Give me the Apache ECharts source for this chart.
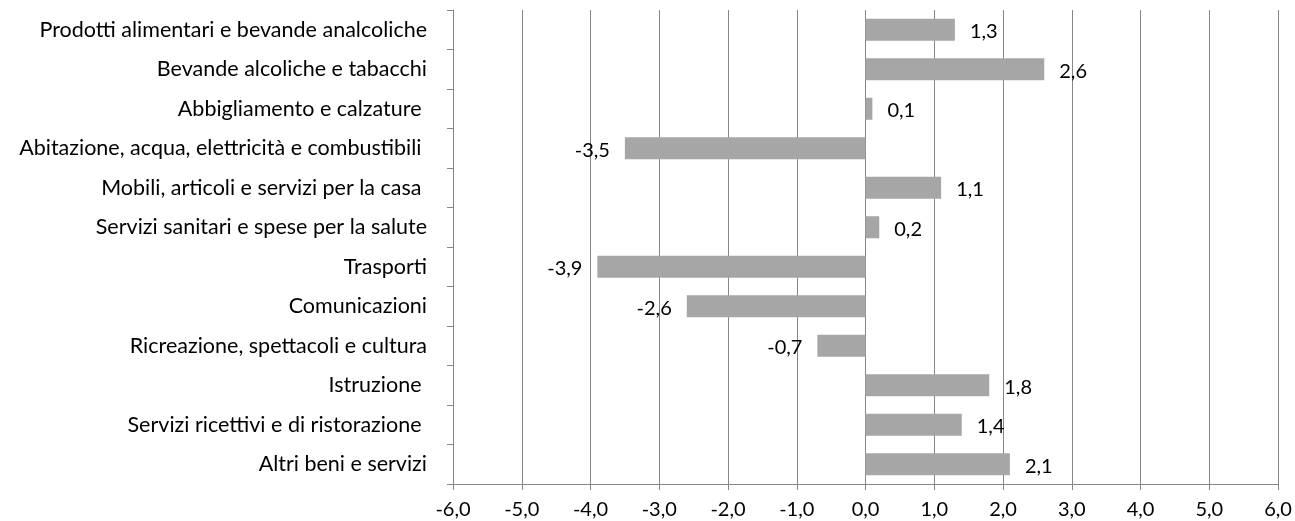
<!DOCTYPE html>
<html>
<head>
<meta charset="utf-8">
<script src="https://cdn.jsdelivr.net/npm/echarts@6/dist/echarts.min.js"></script>
<style>html,body{margin:0;padding:0;background:#fff}#c{width:1295px;height:521px}</style>
</head>
<body>
<div id="c"></div>
<script>
const categories = [
  "Prodotti alimentari e bevande analcoliche",
  "Bevande alcoliche e tabacchi",
  "Abbigliamento e calzature ",
  "Abitazione, acqua, elettricità e combustibili ",
  "Mobili, articoli e servizi per la casa ",
  "Servizi sanitari e spese per la salute",
  "Trasporti",
  "Comunicazioni",
  "Ricreazione, spettacoli e cultura",
  "Istruzione ",
  "Servizi ricettivi e di ristorazione ",
  "Altri beni e servizi"
];
const values = [1.3, 2.6, 0.1, -3.5, 1.1, 0.2, -3.9, -2.6, -0.7, 1.8, 1.4, 2.1];
const xMin = -6, xMax = 6, xStep = 1;

const fmt = v => v.toFixed(1).replace('.', ',');
const FONT = 'Lato';
const GRAY = '#868686';

const chart = echarts.init(document.getElementById('c'));
chart.setOption({
  animation: false,
  grid: { left: 453, right: 17, top: 10, bottom: 37, containLabel: false },
  xAxis: {
    type: 'value', min: xMin, max: xMax, interval: xStep,
    axisLine: { show: true, lineStyle: { color: GRAY, width: 1 } },
    axisTick: { show: true, length: 6, lineStyle: { color: GRAY } },
    axisLabel: { formatter: v => fmt(v), color: '#000', fontFamily: FONT, fontSize: 20, margin: 16 },
    splitLine: { show: true, lineStyle: { color: GRAY, width: 1 } }
  },
  yAxis: [
    {
      type: 'category', data: categories, inverse: true, position: 'left',
      axisLine: { show: false }, axisTick: { show: false },
      axisLabel: { color: '#000', fontFamily: FONT, fontSize: 21.5, margin: 26 },
      splitLine: { show: false }
    },
    {
      type: 'category', data: categories, inverse: true, position: 'left',
      axisLine: { show: true, onZero: true, lineStyle: { color: GRAY, width: 1 } },
      axisTick: { show: true, length: 6, lineStyle: { color: GRAY } },
      axisLabel: { show: false },
      splitLine: { show: false }
    }
  ],
  series: [{
    type: 'bar',
    yAxisIndex: 0,
    data: values.map(v => ({
      value: v,
      label: { position: v >= 0 ? 'right' : 'left' }
    })),
    barWidth: 22,
    itemStyle: { color: '#a6a6a6' },
    label: {
      show: true, distance: 15, offset: [0, 2],
      formatter: p => fmt(p.value),
      color: '#000', fontFamily: FONT, fontSize: 20
    },
    z: 3
  }]
});
</script>
</body>
</html>
